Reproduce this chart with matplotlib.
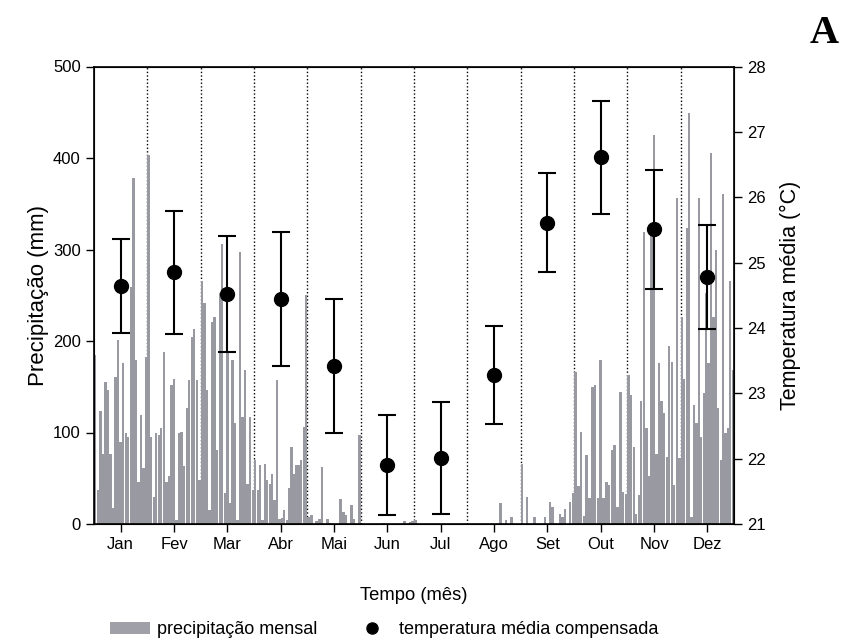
import matplotlib
matplotlib.use("Agg")
import matplotlib.pyplot as plt
from matplotlib.patches import Patch
from matplotlib.lines import Line2D

plt.rcParams['font.family'] = ['Liberation Sans', 'DejaVu Sans']

months = ["Jan", "Fev", "Mar", "Abr", "Mai", "Jun", "Jul", "Ago", "Set", "Out", "Nov", "Dez"]

precip_jan = [185, 37, 123, 77, 155, 146, 77, 17, 161, 201, 90, 176, 100, 95, 259, 378, 179, 46, 119, 61, 183]
precip_fev = [403, 95, 30, 99, 97, 105, 188, 46, 52, 152, 159, 4, 99, 101, 63, 127, 157, 204, 213, 157, 48]
precip_mar = [266, 241, 146, 15, 221, 226, 81, 252, 306, 34, 187, 23, 179, 110, 4, 297, 117, 168, 44, 117, 37]
precip_abr = [70, 37, 64, 4, 66, 48, 44, 55, 26, 157, 5, 7, 15, 4, 39, 84, 55, 64, 64, 70, 106, 250]
precip_mai = [8, 10, 0, 3, 5, 62, 0, 5, 1, 0, 0, 0, 27, 13, 10, 0, 21, 5, 0, 97]
precip_jun = [0, 0, 0, 0, 0, 0, 0, 0, 1, 0, 0, 0, 0, 0, 0, 0, 3, 0, 2, 3]
precip_jul = [4, 0, 0, 0, 0, 0, 0, 0, 0, 0, 0, 0, 0, 0, 0, 0, 0, 0, 0, 0]
precip_ago = [0, 0, 0, 0, 0, 0, 0, 0, 0, 0, 0, 0, 23, 0, 4, 0, 8, 0, 0, 0]
precip_set = [66, 0, 30, 0, 0, 8, 0, 0, 0, 8, 0, 24, 19, 0, 0, 11, 8, 16, 0, 24, 34]
precip_out = [166, 41, 101, 9, 75, 28, 150, 152, 28, 179, 28, 46, 43, 81, 86, 19, 144, 35, 33]
precip_nov = [163, 141, 84, 11, 32, 134, 319, 105, 53, 326, 425, 77, 176, 134, 121, 73, 194, 177, 43, 356, 72]
precip_dez = [226, 159, 323, 449, 8, 130, 110, 356, 95, 143, 252, 176, 406, 226, 299, 127, 70, 361, 99, 105, 266, 168]

precip = [precip_jan, precip_fev, precip_mar, precip_abr, precip_mai, precip_jun,
          precip_jul, precip_ago, precip_set, precip_out, precip_nov, precip_dez]

temp_mean = [24.64, 24.85, 24.52, 24.44, 23.42, 21.90, 22.01, 23.28, 25.61, 26.61, 25.51, 24.78]
temp_sd = [0.72, 0.945, 0.885, 1.025, 1.025, 0.765, 0.86, 0.745, 0.755, 0.86, 0.91, 0.79]

fig = plt.figure(figsize=(8.41, 6.4), dpi=100)
ax = fig.add_axes([94/841, 116/640, 640/841, 457.5/640])

bar_color = '#9899a1'
for i, vals in enumerate(precip):
    n = len(vals)
    xs = [i + (j + 0.5) / n for j in range(n)]
    ax.bar(xs, vals, width=0.93 / n, color=bar_color, linewidth=0, zorder=2)

for k in range(1, 12):
    ax.axvline(k, color='black', linestyle=(0, (1, 1.6)), linewidth=1.0, zorder=1)

ax.set_xlim(0, 12)
ax.set_ylim(0, 500)
ax.set_yticks([0, 100, 200, 300, 400, 500])
ax.set_xticks([i + 0.5 for i in range(12)])
ax.set_xticklabels(months)
ax.tick_params(axis='both', labelsize=12, direction='out', length=6, width=1)
ax.set_ylabel("Precipitação (mm)", fontsize=16, labelpad=3)
ax.set_xlabel("Tempo (mês)", fontsize=13.2, labelpad=25)
for s in ax.spines.values():
    s.set_linewidth(1.2)

ax2 = ax.twinx()
ax2.errorbar([i + 0.5 for i in range(12)], temp_mean, yerr=temp_sd, fmt='o', color='black',
             markersize=10, capsize=6.5, elinewidth=1.5, capthick=1.5, zorder=5)
ax2.set_ylim(21, 28)
ax2.set_yticks(range(21, 29))
ax2.tick_params(axis='y', labelsize=12, direction='out', length=6, width=1)
ax2.set_ylabel("Temperatura média (°C)", fontsize=15.5, labelpad=10)

fig.text(0.997, 0.947, "A", fontsize=29, fontweight='bold', family='Liberation Serif', ha='right', va='center')

handles = [Patch(facecolor='#a0a0a8', edgecolor='none'),
           Line2D([], [], marker='o', linestyle='none', color='black', markersize=8)]
fig.legend(handles, ["precipitação mensal", "temperatura média compensada"], loc='center',
           bbox_to_anchor=(0.4566, 0.016), ncol=2, frameon=False, fontsize=13,
           handlelength=2.2, columnspacing=1.9, handletextpad=0.4)

fig.savefig("out.png", dpi=100)
